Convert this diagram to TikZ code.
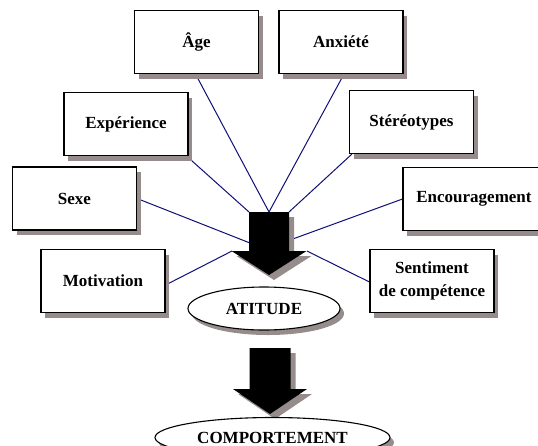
\documentclass[tikz,border=0pt]{standalone}
\usepackage{fontspec}
\setmainfont{Liberation Serif}
\usetikzlibrary{shapes.geometric,shadows,backgrounds}
\definecolor{shadowgray}{RGB}{150,140,140}
\definecolor{linknavy}{RGB}{15,15,120}

\begin{document}
\begin{tikzpicture}[x=1pt,y=-1pt,font=\fontsize{17}{23}\selectfont\bfseries]
      \tikzstyle{shade} = [drop shadow={shadow xshift=4pt, shadow yshift=-5pt, fill=shadowgray, opacity=1}]
      \tikzstyle{factor} = [draw, line width=1.1pt, fill=white, minimum width=124pt, minimum height=63pt, inner sep=2pt, align=center, shade]
      \tikzstyle{outcome} = [draw, ellipse, line width=1.1pt, fill=white, inner sep=0pt, shade]
      \tikzstyle{bigarrow} = [fill=black, drop shadow={shadow xshift=5pt, shadow yshift=-5pt, fill=shadowgray, opacity=1}]
      \tikzstyle{link} = [linknavy, line width=1pt]
      \useasboundingbox (0,0) rectangle (538,445);
      % factor boxes
      \node[factor] (age) at (196.5,42) {Âge};
      \node[factor] (anx) at (341,42) {Anxiété};
      \node[factor] (expe) at (126,124) {Expérience};
      \node[factor] (ster) at (411.5,122) {Stéréotypes};
      \node[factor] (sexe) at (74.5,198.5) {Sexe};
      \node[factor, minimum width=142pt] (encour) at (474,199) {Encouragement};
      \node[factor] (motiv) at (103,281) {Motivation};
      \node[factor] (sent) at (432,281) {Sentiment\\de compétence};
      % arrows
      \coordinate (arr1) at (269,212);
      \coordinate (arr2) at (270,348);
      \fill[bigarrow] (arr1) ++(-20,0) -- ++(40,0) -- ++(0,39) -- ++(17.5,0) -- ++(-37.5,24) -- ++(-37.5,-24) -- ++(17.5,0) -- cycle;
      \fill[bigarrow] (arr2) ++(-20.5,0) -- ++(41,0) -- ++(0,41) -- ++(16.5,0) -- ++(-37,25) -- ++(-37,-25) -- ++(16.5,0) -- cycle;
      \node[outcome, minimum width=152pt, minimum height=43pt] (atti) at (264,308.5) {ATITUDE};
      \node[outcome, minimum width=235pt, minimum height=40pt] (comp) at (272.5,437.5) {COMPORTEMENT};
      % line ends on the arrow
      \coordinate (hub) at (269,212);
      \coordinate (hubl) at (249,212);
      \coordinate (hubr) at (289,212);
      \coordinate (sidel) at (250,243);
      \coordinate (sider) at (290,240);
      \coordinate (headl) at (232,251);
      \coordinate (headr) at (307,251);
      \begin{pgfonlayer}{background}
	\path
	([xshift=-1pt]age.south) edge[link] (hub)
	([xshift=3pt]anx.south) edge[link] (hub)
	([xshift=-2pt]expe.south east) edge[link] (hubl)
	([xshift=3pt]ster.south west) edge[link] (hubr)
	(sexe.east) edge[link] (sidel)
	(encour.west) edge[link] (sider)
	([yshift=-4pt]motiv.east) edge[link] (headl)
	([yshift=-1pt]sent.west) edge[link] (headr)
	;
      \end{pgfonlayer}
    \end{tikzpicture}
\end{document}
